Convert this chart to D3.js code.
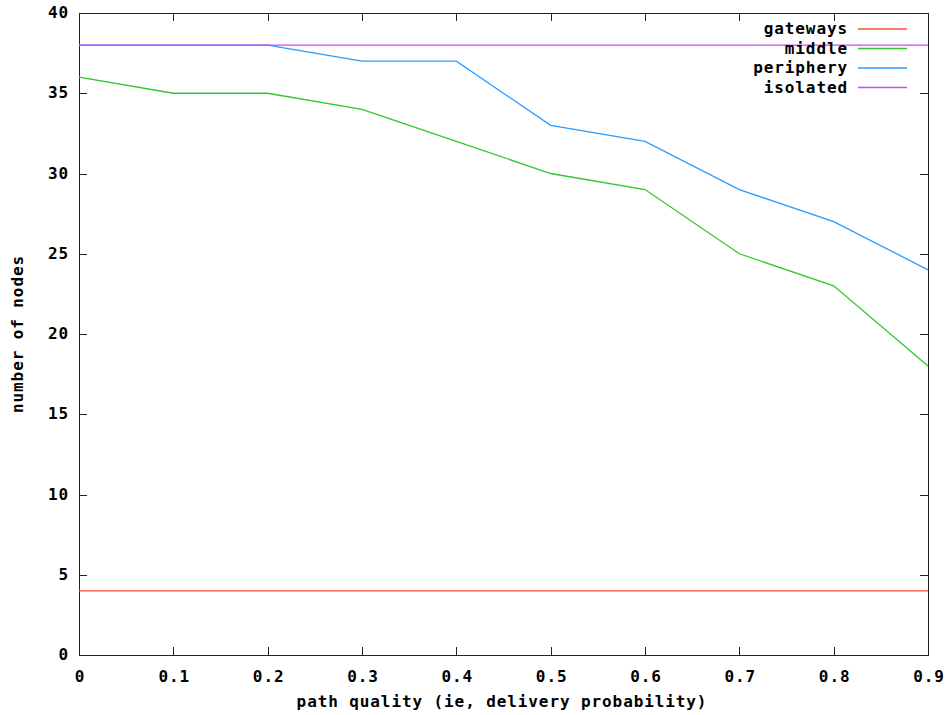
<!DOCTYPE html>
<html>
<head>
<meta charset="utf-8">
<script src="https://cdn.jsdelivr.net/npm/d3@7"></script>
<style>
  body { margin: 0; background: #fff; }
  svg text { font-family: "DejaVu Sans Mono", "Liberation Mono", monospace; font-weight: bold; fill: #000; font-size: 16px; letter-spacing: 0.9px; }
</style>
</head>
<body>
<svg id="chart" width="949" height="715"></svg>
<script>
// data
const xs = [0, 0.1, 0.2, 0.3, 0.4, 0.5, 0.6, 0.7, 0.8, 0.9];
const gateways = [4, 4, 4, 4, 4, 4, 4, 4, 4, 4];
const middle = [36, 35, 35, 34, 32, 30, 29, 25, 23, 18];
const periphery = [38, 38, 38, 37, 37, 33, 32, 29, 27, 24];
const isolated = [38, 38, 38, 38, 38, 38, 38, 38, 38, 38];
const seriesNames = ['gateways', 'middle', 'periphery', 'isolated'];
const seriesColors = ['#ff4b38', '#2ec82e', '#2a9cff', '#d048f0'];
const yTicks = [0, 5, 10, 15, 20, 25, 30, 35, 40];

const series = [gateways, middle, periphery, isolated];

const svg = d3.select('#chart');
const plotL = 79, plotR = 928, plotT = 13, plotB = 655;

const x = d3.scaleLinear().domain([0, 0.9]).range([plotL, plotR]);
const y = d3.scaleLinear().domain([0, 40]).range([plotB, plotT]);

const tickLen = 8;

// frame
svg.append('rect')
  .attr('x', plotL + 0.5).attr('y', plotT + 0.5)
  .attr('width', plotR - plotL).attr('height', plotB - plotT)
  .attr('fill', 'none').attr('stroke', '#222').attr('stroke-width', 1);

// x ticks, bottom and mirrored at top
const g = svg.append('g');
xs.forEach(v => {
  const px = Math.round(x(v)) + 0.5;
  g.append('line').attr('x1', px).attr('x2', px).attr('y1', plotB).attr('y2', plotB - tickLen)
    .attr('stroke', '#222');
  g.append('line').attr('x1', px).attr('x2', px).attr('y1', plotT).attr('y2', plotT + tickLen)
    .attr('stroke', '#222');
  g.append('text')
    .attr('x', x(v) + 1).attr('y', 682)
    .attr('text-anchor', 'middle')
    .text(v === 0 ? '0' : d3.format('.1f')(v));
});

// y ticks, left and mirrored at right
yTicks.forEach(v => {
  const py = Math.round(y(v)) + 0.5;
  g.append('line').attr('x1', plotL).attr('x2', plotL + tickLen).attr('y1', py).attr('y2', py)
    .attr('stroke', '#222');
  g.append('line').attr('x1', plotR).attr('x2', plotR - tickLen).attr('y1', py).attr('y2', py)
    .attr('stroke', '#222');
  g.append('text')
    .attr('x', 69).attr('y', y(v) + 5)
    .attr('text-anchor', 'end')
    .text(v);
});

// axis titles
svg.append('text')
  .attr('x', 502).attr('y', 707)
  .attr('text-anchor', 'middle')
  .text('path quality (ie, delivery probability)');

svg.append('text')
  .attr('transform', `translate(23, 334) rotate(-90)`)
  .attr('text-anchor', 'middle')
  .text('number of nodes');

// lines
const line = d3.line()
  .x((d, i) => x(xs[i]))
  .y(d => y(d));

series.forEach((vals, i) => {
  svg.append('path')
    .datum(vals)
    .attr('d', line)
    .attr('fill', 'none')
    .attr('stroke', seriesColors[i])
    .attr('stroke-width', 1.3);
});

// legend
const legend = svg.append('g');
seriesNames.forEach((name, i) => {
  const ly = 29 + i * 19.5;
  legend.append('text')
    .attr('x', 848).attr('y', ly + 5)
    .attr('text-anchor', 'end')
    .text(name);
  legend.append('line')
    .attr('x1', 858).attr('x2', 907)
    .attr('y1', ly).attr('y2', ly)
    .attr('stroke', seriesColors[i])
    .attr('stroke-width', 1.3);
});
</script>
</body>
</html>
